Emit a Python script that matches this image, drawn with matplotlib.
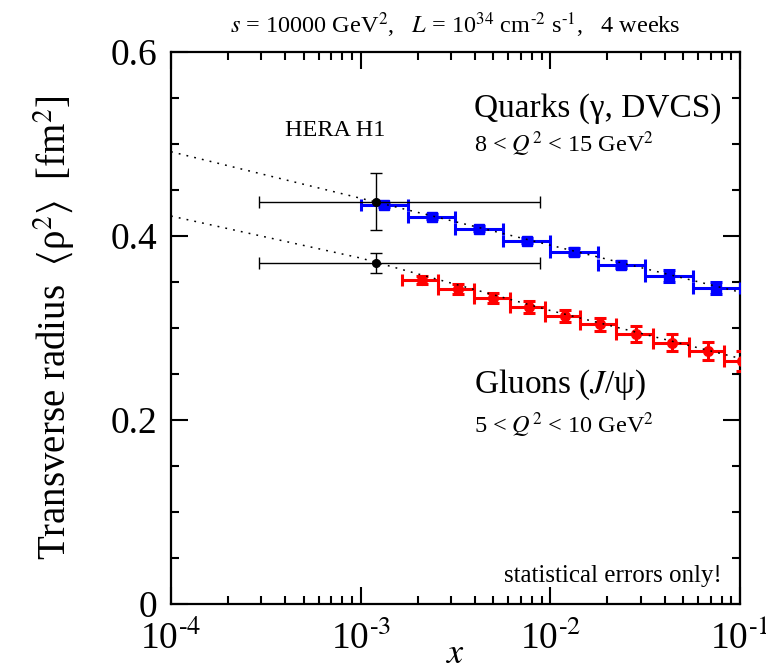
import matplotlib
matplotlib.use("Agg")
import matplotlib.pyplot as plt
import numpy as np
from matplotlib.ticker import LogLocator, MultipleLocator, FixedLocator, NullFormatter

plt.rcParams['font.family'] = ['Liberation Serif', 'DejaVu Serif']
plt.rcParams['mathtext.fontset'] = 'stix'

# ---- data ----
# Quarks (gamma, DVCS) projected bins
q_xlo = [1.00e-3, 1.78e-3, 3.16e-3, 5.62e-3, 1.00e-2, 1.78e-2, 3.16e-2, 5.62e-2]
q_xhi = [1.78e-3, 3.16e-3, 5.62e-3, 1.00e-2, 1.78e-2, 3.16e-2, 5.62e-2, 1.00e-1]
q_x = [1.33e-3, 2.37e-3, 4.22e-3, 7.50e-3, 1.33e-2, 2.37e-2, 4.22e-2, 7.50e-2]
q_y = [0.434, 0.421, 0.408, 0.395, 0.383, 0.369, 0.3565, 0.344]
q_err = [0.002, 0.0025, 0.003, 0.003, 0.0035, 0.004, 0.0065, 0.0065]

# Gluons (J/psi) projected bins
g_xlo = [1.66e-3, 2.56e-3, 3.97e-3, 6.12e-3, 9.40e-3, 1.43e-2, 2.21e-2, 3.46e-2, 5.38e-2, 8.26e-2]
g_xhi = [2.56e-3, 3.97e-3, 6.12e-3, 9.40e-3, 1.43e-2, 2.21e-2, 3.46e-2, 5.38e-2, 8.26e-2, 1.26e-1]
g_x = [2.10e-3, 3.24e-3, 5.00e-3, 7.74e-3, 1.19e-2, 1.82e-2, 2.82e-2, 4.40e-2, 6.79e-2, 1.02e-1]
g_y = [0.352, 0.3425, 0.3325, 0.323, 0.313, 0.304, 0.2935, 0.284, 0.275, 0.264]
g_err = [0.004, 0.005, 0.0058, 0.0063, 0.0069, 0.0072, 0.0082, 0.0094, 0.0103, 0.011]

# HERA H1 measurements
h1_x = [1.2e-3, 1.2e-3]
h1_xlo = [2.9e-4, 2.9e-4]
h1_xhi = [8.8e-3, 8.8e-3]
h1_y = [0.437, 0.371]
h1_err = [0.031, 0.011]

# dotted model curves
fit_x = [1e-4, 1e-3, 1e-2, 1e-1]
fit_quark = [0.4916, 0.441, 0.390, 0.339]
fit_gluon = [0.4217, 0.376, 0.319, 0.267]

xticks = [1e-4, 1e-3, 1e-2, 1e-1]
xticklabels = [r'10$^{\text{-4}}$', r'10$^{\text{-3}}$', r'10$^{\text{-2}}$', r'10$^{\text{-1}}$']
yticks = [0, 0.2, 0.4, 0.6]
yticklabels = ['0', '0.2', '0.4', '0.6']

# ---- figure ----
fig = plt.figure(figsize=(7.66, 6.64), dpi=100)
ax = fig.add_axes([171/766, 60/664, 569/766, 552/664])
ax.set_xscale('log')
ax.set_xlim(1e-4, 1e-1)
ax.set_ylim(0, 0.6)

ax.plot(fit_x, fit_quark, color='black', lw=1.1, ls=(0, (1.2, 4)), zorder=4)
ax.plot(fit_x, fit_gluon, color='black', lw=1.1, ls=(0, (1.2, 4)), zorder=4)

def xerrs(x, lo, hi):
    return [np.array(x) - np.array(lo), np.array(hi) - np.array(x)]

ax.errorbar(q_x, q_y, xerr=xerrs(q_x, q_xlo, q_xhi), yerr=q_err, fmt='s', color='#0000ff',
            ms=6.5, elinewidth=2.2, capsize=4, capthick=2.2, zorder=3)
ax.errorbar(g_x, g_y, xerr=xerrs(g_x, g_xlo, g_xhi), yerr=g_err, fmt='o', color='#ff0000',
            ms=7, elinewidth=2.2, capsize=4, capthick=2.2, zorder=3)
ax.errorbar(h1_x, h1_y, xerr=xerrs(h1_x, h1_xlo, h1_xhi), yerr=h1_err, fmt='o', color='black',
            ms=5.5, elinewidth=1.0, capsize=4, capthick=1.0, zorder=5)

# axes styling
for s in ax.spines.values():
    s.set_linewidth(1.6)
ax.xaxis.set_major_locator(FixedLocator(xticks))
ax.set_xticklabels(xticklabels)
ax.xaxis.set_minor_locator(LogLocator(base=10, subs=np.arange(2, 10)))
ax.xaxis.set_minor_formatter(NullFormatter())
ax.yaxis.set_major_locator(FixedLocator(yticks))
ax.set_yticklabels(yticklabels)
ax.yaxis.set_minor_locator(MultipleLocator(0.05))
ax.tick_params(which='both', direction='in', top=True, right=True, labelsize=27)
ax.tick_params(which='major', length=12, width=1.5)
ax.tick_params(axis='x', which='major', pad=12)
ax.tick_params(axis='y', which='major', pad=10)
ax.tick_params(which='minor', length=6, width=1.5)

ax.set_xlabel(r'$x$', fontsize=26, labelpad=-14)
ax.set_ylabel(r'Transverse radius  $\langle$ρ$^2$$\rangle$  [fm$^2$]', fontsize=28, labelpad=24)

fig.text(455/766, 1 - 33/664,
         r'$s$ = 10000 GeV$^2$,   $L$ = 10$^{34}$ cm$^{\text{-2}}$ s$^{\text{-1}}$,   4 weeks',
         ha='center', va='baseline', fontsize=17.5)

ax.text(0.2003, 0.848, 'HERA H1', transform=ax.transAxes, fontsize=17.5, va='baseline')
ax.text(0.5325, 0.882, 'Quarks (γ, DVCS)', transform=ax.transAxes, fontsize=24, va='baseline')
ax.text(0.5325, 0.819, r'8 < $Q^2$ < 15 GeV$^2$', transform=ax.transAxes, fontsize=17.5, va='baseline')
ax.text(0.5325, 0.382, r'Gluons ($J$/ψ)', transform=ax.transAxes, fontsize=24, va='baseline')
ax.text(0.5325, 0.310, r'5 < $Q^2$ < 10 GeV$^2$', transform=ax.transAxes, fontsize=17.5, va='baseline')
ax.text(0.968, 0.040, 'statistical errors only!', transform=ax.transAxes, fontsize=18, ha='right',
        va='baseline')

fig.savefig('out.png', dpi=100)
